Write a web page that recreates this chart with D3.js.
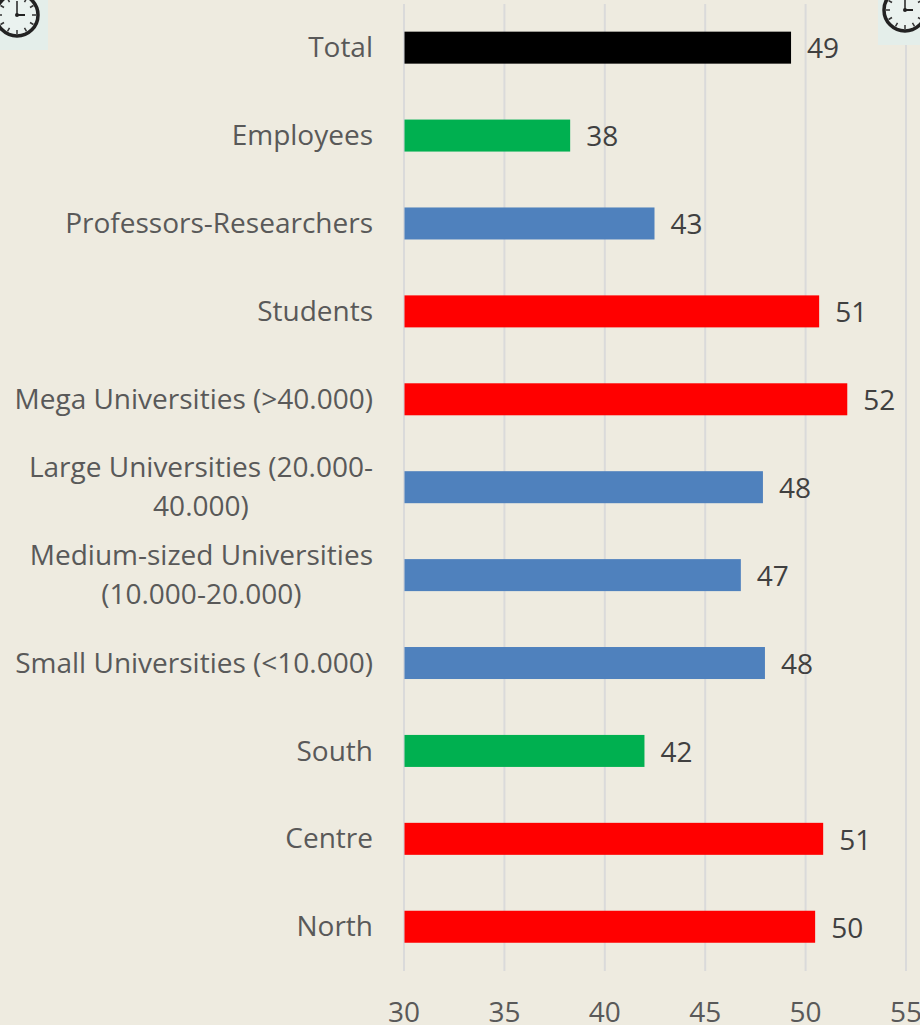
<!DOCTYPE html>
<html><head><meta charset="utf-8">
<script src="https://cdnjs.cloudflare.com/ajax/libs/d3/7.8.5/d3.min.js"></script>
<style>html,body{margin:0;padding:0;background:#EEEBE0}svg{display:block}text{font-family:"Open Sans",sans-serif}</style>
</head><body><svg id="c" width="920" height="1025"></svg>
<script>
const categories=["Total","Employees","Professors-Researchers","Students","Mega Universities (>40.000)","Large Universities (20.000-|40.000)","Medium-sized Universities|(10.000-20.000)","Small Universities (<10.000)","South","Centre","North"];
const values=[49.3,38.3,42.5,50.7,52.1,47.9,46.8,48,42,50.9,50.5];
const labels=["49","38","43","51","52","48","47","48","42","51","50"];
const groups=["k","g","b","r","r","b","b","b","g","r","r"];
const ticks=[30,35,40,45,50,55];
const palette={k:"#000000",g:"#00B050",b:"#4F81BD",r:"#FF0000"};
const svg=d3.select("#c");
const x=d3.scaleLinear().domain([30,55]).range([403.5,905.5]);
const y=d3.scaleBand().domain(d3.range(categories.length)).range([3.7,970.7]).paddingInner(0.636).paddingOuter(0.318);
const ax=svg.append("g").attr("transform","translate(0,971)")
 .call(d3.axisBottom(x).tickValues(ticks).tickSize(-967).tickPadding(31));
ax.select(".domain").remove();
ax.selectAll("line").attr("stroke","#DADADA").attr("stroke-width",2);
ax.selectAll("text").attr("font-size",28).attr("fill","#595959").style("font-family",'"Open Sans",sans-serif');
svg.append("g").selectAll("rect").data(values).join("rect")
 .attr("x",x(30)+1).attr("y",(d,i)=>y(i)).attr("height",y.bandwidth())
 .attr("width",d=>x(d)-x(30)-1).attr("fill",(d,i)=>palette[groups[i]]);
svg.append("g").selectAll("text").data(values).join("text")
 .attr("x",d=>x(d)+16).attr("y",(d,i)=>y(i)+y.bandwidth()/2+0.7).attr("dy","0.36em")
 .attr("font-size",28).attr("fill","#404040").text((d,i)=>labels[i]);
const cat=svg.append("g").selectAll("text").data(categories).join("text")
 .attr("font-size",28).attr("fill","#595959")
 .attr("y",(d,i)=>y(i)+y.bandwidth()/2-0.5);
cat.each(function(d){
 const parts=d.split("|"),t=d3.select(this);
 const first=t.append("tspan").text(parts[0]);
 const w=first.node().getComputedTextLength();
 first.remove();
 parts.forEach((p,j)=>{
  t.append("tspan").attr("text-anchor",parts.length>1?"middle":"end")
   .attr("x",parts.length>1?373-w/2:373)
   .attr("dy",j===0?(parts.length>1?"-0.33em":"0.36em"):"1.39em").text(p);
 });
});
function clock(bx,by,bw,bh,cx,cy,r){
 const g=svg.append("g");
 g.append("rect").attr("x",bx).attr("y",by).attr("width",bw).attr("height",bh).attr("fill","#E4EEEA");
 g.append("circle").attr("cx",cx).attr("cy",cy).attr("r",r).attr("fill","#EAF2EF").attr("stroke","#222").attr("stroke-width",3.5);
 d3.range(12).forEach(i=>{
  const a=i*Math.PI/6;
  g.append("line").attr("x1",cx+Math.cos(a)*(r-6)).attr("y1",cy+Math.sin(a)*(r-6))
   .attr("x2",cx+Math.cos(a)*(r-2)).attr("y2",cy+Math.sin(a)*(r-2)).attr("stroke","#333").attr("stroke-width",1.5);
 });
 g.append("line").attr("x1",cx).attr("y1",cy).attr("x2",cx).attr("y2",cy-14).attr("stroke","#222").attr("stroke-width",1.5);
 g.append("line").attr("x1",cx).attr("y1",cy).attr("x2",cx+8).attr("y2",cy).attr("stroke","#222").attr("stroke-width",2);
 g.append("circle").attr("cx",cx).attr("cy",cy).attr("r",2).attr("fill","#222");
}
clock(-2,-2,50,52,17,15,21);
clock(878,-2,44,47,905,10,21);
</script></body></html>
